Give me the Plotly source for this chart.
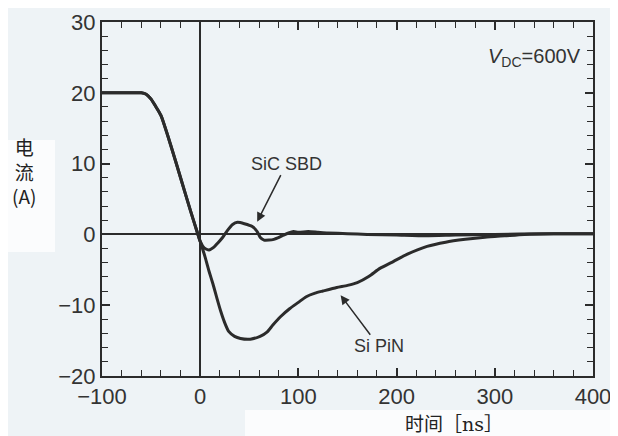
import plotly.graph_objects as go

# shared turn-off portion (t < 0)
t_common = [-100, -80, -60, -55, -50, -45, -40, -30, -20, -10, -3, 0]
i_common = [20, 20, 20, 19.8, 19.1, 18.0, 16.8, 12.6, 8.0, 3.4, 0.3, -1.0]

t_sic = [4, 9, 14, 18, 23, 28, 33, 38, 45, 53, 58, 61, 65, 70, 75, 79, 85, 90, 95,
         100, 110, 120, 130, 150, 170, 200, 230, 260, 300, 350, 400]
i_sic = [-1.9, -2.2, -1.8, -1.2, -0.4, 0.6, 1.4, 1.7, 1.5, 1.1, 0.4, -0.4, -0.8, -0.8,
         -0.7, -0.5, -0.1, 0.2, 0.4, 0.3, 0.4, 0.3, 0.2, 0.1, 0.0, -0.1, -0.2, -0.1,
         0.0, 0.1, 0.1]

t_pin = [5, 9, 13, 17, 21, 25, 29, 35, 41, 51, 61, 68, 74, 82, 91, 100, 108, 117,
         125, 139, 150, 160, 172, 183, 197, 211, 231, 250, 270, 290, 310, 330, 360, 400]
i_pin = [-3.2, -5.2, -7.0, -9.0, -10.9, -12.5, -13.7, -14.4, -14.7, -14.8, -14.4,
         -13.8, -12.8, -11.6, -10.5, -9.6, -8.8, -8.3, -8.0, -7.5, -7.2, -6.8, -5.9,
         -4.8, -3.8, -2.8, -1.7, -1.1, -0.7, -0.4, -0.2, 0.0, 0.1, 0.1]

x_ticks = [-100, 0, 100, 200, 300, 400]
y_ticks = [-20, -10, 0, 10, 20, 30]

LINE = "#2b2b2b"
BG = "#eef3f6"
FONT = "Liberation Sans"

fig = go.Figure()
fig.add_trace(go.Scatter(x=t_common + t_sic, y=i_common + i_sic, mode="lines",
                         line=dict(color=LINE, width=3, shape="spline", smoothing=0.6),
                         showlegend=False))
fig.add_trace(go.Scatter(x=t_common + t_pin, y=i_common + i_pin, mode="lines",
                         line=dict(color=LINE, width=3, shape="spline", smoothing=0.6),
                         showlegend=False))

axis_common = dict(showline=True, linecolor=LINE, linewidth=2, mirror="ticks",
                   ticks="inside", ticklen=8, tickwidth=1.5, tickcolor=LINE,
                   showgrid=False, zeroline=True, zerolinecolor=LINE, zerolinewidth=1.5,
                   tickfont=dict(family=FONT, size=22, color="#333333"))

fig.update_xaxes(range=[-100, 400], tickvals=x_ticks,
                 minor=dict(dtick=20, tick0=0, ticks="inside", ticklen=6, tickcolor=LINE, tickwidth=1.2),
                 **axis_common)
fig.update_yaxes(range=[-20, 30], tickvals=y_ticks,
                 minor=dict(dtick=2, tick0=0, ticks="inside", ticklen=6, tickcolor=LINE, tickwidth=1.2),
                 **axis_common)

# The page body adds an 8px offset, so the figure is 8px smaller than the window.
OFF = 8
W, H = 618 - OFF, 436 - OFF
ml, mr, mt, mb = 102 - OFF, 25, 22 - OFF, 60
pw, ph = W - ml - mr, H - mt - mb

def px(xp, yp):
    """window pixel -> paper coordinates"""
    return (xp - OFF - ml) / pw, 1 - (yp - OFF - mt) / ph

ann_font = dict(family=FONT, size=18, color="#333333")
annotations = [
    dict(x=58, y=1.8, xref="x", yref="y", ax=88, ay=10.0, axref="x", ayref="y",
         text="SiC SBD", font=ann_font, showarrow=True, arrowhead=2, arrowsize=1.2,
         arrowwidth=1.5, arrowcolor=LINE, standoff=0),
    dict(x=143, y=-8.6, xref="x", yref="y", ax=182, ay=-15.8, axref="x", ayref="y",
         text="Si PiN", font=ann_font, showarrow=True, arrowhead=2, arrowsize=1.2,
         arrowwidth=1.5, arrowcolor=LINE, standoff=0),
    dict(x=390, y=25, xref="x", yref="y", xanchor="right",
         text="<i>V</i><sub>DC</sub>=600V", showarrow=False,
         font=dict(family=FONT, size=20, color="#333333")),
]

lx, ly = px(24, 171)
annotations.append(dict(x=lx, y=ly, xref="paper", yref="paper", xanchor="center", yanchor="middle",
                        text="电<br>流<br>(A)", showarrow=False, align="center",
                        font=dict(family="Noto Sans CJK SC", size=19, color="#222222")))
bx, by = px(454, 422)
annotations.append(dict(x=bx, y=by, xref="paper", yref="paper", xanchor="center", yanchor="middle",
                        text='时间［<span style="font-family:DejaVu Serif">ns</span>］',
                        showarrow=False,
                        font=dict(family="Noto Sans CJK SC", size=19, color="#222222")))

x0, y0 = px(0, 140)
x1, y1 = px(55, 252)
x2, y2 = px(245, 410)
x3, y3 = px(618, 436)
shapes = [
    dict(type="rect", xref="paper", yref="paper", x0=x0, x1=x1, y0=y1, y1=y0,
         fillcolor="#fbfcfd", line=dict(width=0), layer="below"),
    dict(type="rect", xref="paper", yref="paper", x0=x2, x1=x3, y0=y3, y1=y2,
         fillcolor="#fbfcfd", line=dict(width=0), layer="below"),
]

fig.update_layout(width=W, height=H, margin=dict(l=ml, r=mr, t=mt, b=mb, autoexpand=False),
                  paper_bgcolor=BG, plot_bgcolor=BG,
                  annotations=annotations, shapes=shapes, showlegend=False)

fig.write_html("out.html")
